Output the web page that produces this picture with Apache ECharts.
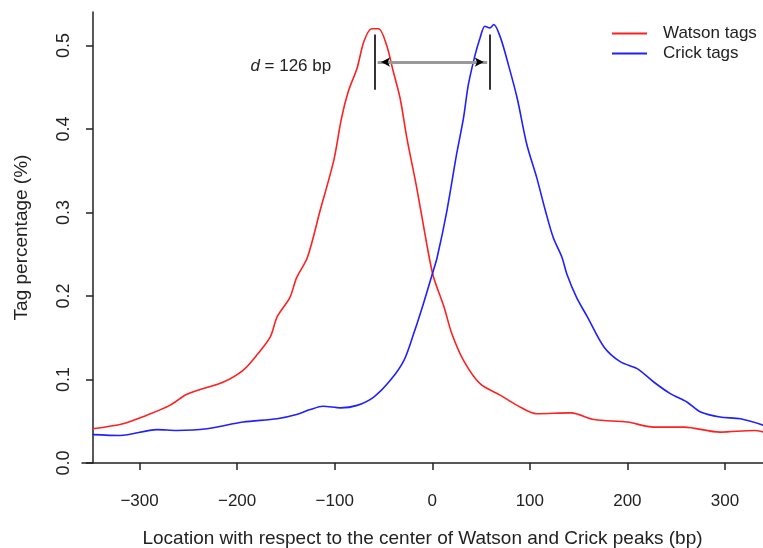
<!DOCTYPE html>
<html>
  <head>
    <title>Watson and Crick tag distribution</title>
    <meta charset='utf-8' />
    <script src="https://cdn.jsdelivr.net/npm/echarts@6/dist/echarts.min.js"></script>
  </head>
  <body style="margin: 0;">
    <div id="content" style="width: 763px; height: 548px;"></div>

    <script type="text/javascript">
      // Watson tags (red), location in bp and tag percentage
      var watsonPos = [-348, -317, -293, -269, -252, -238, -214, -194, -180, -166, -159, -146, -139,
        -128, -115, -101, -93, -86, -77, -70, -62, -55, -47, -40, -33, -26, -16, -5, 1, 12, 20, 32,
        49, 70, 87, 107, 142, 166, 200, 227, 258, 295, 330, 340];
      var watsonPct = [0.041, 0.047, 0.057, 0.069, 0.082, 0.088, 0.097, 0.111, 0.129, 0.151, 0.175,
        0.198, 0.222, 0.246, 0.302, 0.362, 0.413, 0.445, 0.473, 0.505, 0.520, 0.520, 0.501, 0.469,
        0.437, 0.389, 0.330, 0.258, 0.224, 0.187, 0.155, 0.123, 0.095, 0.081, 0.069, 0.059, 0.060,
        0.052, 0.049, 0.043, 0.043, 0.037, 0.039, 0.037];

      // Crick tags (blue)
      var crickPos = [-348, -320, -282, -262, -231, -194, -159, -139, -125, -112, -94, -77, -60, -43,
        -29, -19, -9, 1, 5, 15, 25, 32, 37, 44, 49, 54, 59, 63, 70, 78, 87, 97, 107, 116, 124, 133,
        138, 148, 159, 176, 193, 210, 227, 244, 261, 275, 295, 316, 340];
      var crickPct = [0.034, 0.033, 0.040, 0.039, 0.041, 0.049, 0.053, 0.058, 0.064, 0.068, 0.066,
        0.069, 0.079, 0.099, 0.123, 0.155, 0.191, 0.230, 0.246, 0.302, 0.370, 0.413, 0.453, 0.489,
        0.509, 0.523, 0.521, 0.525, 0.509, 0.477, 0.437, 0.381, 0.342, 0.302, 0.270, 0.246, 0.226,
        0.198, 0.175, 0.139, 0.121, 0.113, 0.097, 0.083, 0.073, 0.061, 0.055, 0.053, 0.045];

      var xTicks = [-300, -200, -100, 0, 100, 200, 300];
      var yTicks = [0, 0.1, 0.2, 0.3, 0.4, 0.5];

      // peak marks and distance
      var watsonPeak = -58.5;
      var crickPeak = 58.8;
      var markLow = 0.447, markHigh = 0.513, arrowLevel = 0.480;

      function pairs(xs, ys) {
        var out = [];
        for (var i = 0; i < xs.length; i++) out.push([xs[i], ys[i]]);
        return out;
      }

      var font = 'Liberation Sans, Arial, sans-serif';
      var ink = '#222';

      var myChart = echarts.init(document.getElementById('content'));
      var options = {
        animation: false,
        textStyle: {fontFamily: font, color: ink},
        grid: {left: 82, right: 0, top: 12, bottom: 85, outerBoundsMode: 'none'},
        legend: {
          left: 607, top: 20, orient: 'vertical',
          icon: 'rect', itemWidth: 35, itemHeight: 2, itemGap: 3,
          textStyle: {fontSize: 17, color: ink, padding: [0, 0, 0, 11]},
          data: ['Watson tags', 'Crick tags']
        },
        xAxis: {
          type: 'value', min: -359, max: 339,
          name: 'Location with respect to the center of Watson and Crick peaks (bp)',
          nameLocation: 'middle', nameGap: 66,
          nameTextStyle: {fontSize: 19, color: ink},
          splitLine: {show: false},
          axisLine: {onZero: false, lineStyle: {color: ink, width: 1.5}},
          axisTick: {customValues: xTicks, length: 7, lineStyle: {color: ink, width: 1.5}},
          axisLabel: {
            customValues: xTicks, margin: 30, fontSize: 17, color: ink,
            formatter: function (v) { return v < 0 ? '\u2212' + (-v) : String(v); }
          }
        },
        yAxis: {
          type: 'value', min: 0, max: 0.54, offset: -11,
          name: 'Tag percentage (%)',
          nameLocation: 'middle', nameGap: 62,
          nameTextStyle: {fontSize: 19, color: ink},
          splitLine: {show: false},
          axisLine: {onZero: false, lineStyle: {color: ink, width: 1.5}},
          axisTick: {customValues: yTicks, length: 7, lineStyle: {color: ink, width: 1.5}},
          axisLabel: {
            customValues: yTicks, rotate: 90, margin: 20, fontSize: 18, color: ink,
            formatter: function (v) { return v.toFixed(1); }
          }
        },
        series: [{
          name: 'Watson tags', type: 'line', symbol: 'none', smooth: 0.3,
          lineStyle: {color: '#ff2020', width: 1.6},
          itemStyle: {color: '#ff2020'},
          data: pairs(watsonPos, watsonPct),
          markLine: {
            silent: true, symbol: 'none', animation: false,
            label: {show: false},
            data: [
              [{coord: [watsonPeak + 2.5, arrowLevel], lineStyle: {color: '#999', width: 3, type: 'solid'}},
               {coord: [crickPeak - 2.5, arrowLevel]}],
              [{coord: [watsonPeak, markLow], lineStyle: {color: '#000', width: 1.6, type: 'solid'}},
               {coord: [watsonPeak, markHigh]}],
              [{coord: [crickPeak, markLow], lineStyle: {color: '#000', width: 1.6, type: 'solid'}},
               {coord: [crickPeak, markHigh]}]
            ]
          },
          markPoint: {
            silent: true, animation: false,
            data: [
              {coord: [watsonPeak + 6, arrowLevel], symbol: 'arrow', symbolSize: [7, 9], symbolRotate: 90,
               itemStyle: {color: '#000'}, label: {show: false}},
              {coord: [crickPeak - 6, arrowLevel], symbol: 'arrow', symbolSize: [7, 9], symbolRotate: -90,
               itemStyle: {color: '#000'}, label: {show: false}},
              {coord: [-145, 0.475], symbolSize: 0,
               label: {
                 show: true, position: 'inside', formatter: '{i|d} = 126 bp',
                 fontSize: 17, color: ink,
                 rich: {i: {fontStyle: 'italic', fontSize: 17, color: ink}}
               }}
            ]
          }
        }, {
          name: 'Crick tags', type: 'line', symbol: 'none', smooth: 0.3,
          lineStyle: {color: '#2020ff', width: 1.6},
          itemStyle: {color: '#2020ff'},
          data: pairs(crickPos, crickPct)
        }]
      };
      myChart.setOption(options);
    </script>
  </body>
</html>
